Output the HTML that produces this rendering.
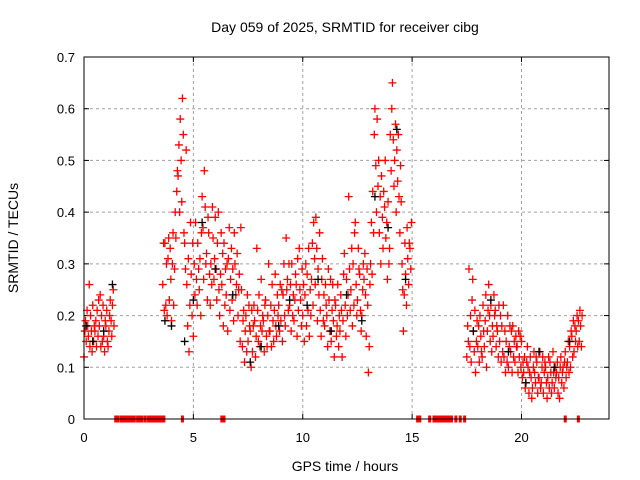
<!DOCTYPE html>
<html><head><meta charset="utf-8">
<style>
html,body{margin:0;padding:0;background:#fff;}
svg{display:block;font-family:"Liberation Sans",sans-serif;}
</style></head>
<body>
<svg id="chart" width="640" height="480" viewBox="0 0 640 480" xmlns="http://www.w3.org/2000/svg">
<rect x="0" y="0" width="640" height="480" fill="#fff"/>
<text x="345" y="32" font-size="14" text-anchor="middle" fill="#000">Day 059 of 2025, SRMTID for receiver cibg</text>
<text transform="translate(18,238) rotate(-90)" font-size="14" text-anchor="middle" fill="#000">SRMTID / TECUs</text>
<text x="345" y="471" font-size="14" text-anchor="middle" fill="#000">GPS time / hours</text>
<g id="grid"></g><g id="ticks"></g><g id="marks"></g>
<rect x="84" y="57" width="525" height="362" fill="none" stroke="#000" stroke-width="1"/>
</svg>
<script>
const xTicks=[0,5,10,15,20];
const yTicks=[0,0.1,0.2,0.3,0.4,0.5,0.6,0.7];
const yTickLabels=["0","0.1","0.2","0.3","0.4","0.5","0.6","0.7"];
const redTimes=[0.0,0.1,0.2,0.3,0.4,0.5,0.6,0.7,0.8,0.9,1.0,1.1,1.2,1.3,
3.6,3.7,3.8,3.9,4.0,4.1,4.2,4.3,4.4,4.5,4.6,4.7,4.8,4.9,5.0,5.1,5.2,5.3,5.4,5.5,5.6,5.7,5.8,5.9,6.0,6.1,6.2,6.3,6.4,6.5,6.6,6.7,6.8,6.9,
7.0,7.1,7.2,7.3,7.4,7.5,7.6,7.7,7.8,7.9,8.0,8.1,8.2,8.3,8.4,8.5,8.6,8.7,8.8,8.9,9.0,9.1,9.2,9.3,9.4,9.5,9.6,9.7,9.8,9.9,
10.0,10.1,10.2,10.3,10.4,10.5,10.6,10.7,10.8,10.9,11.0,11.1,11.2,11.3,11.4,11.5,11.6,11.7,11.8,11.9,
12.0,12.1,12.2,12.3,12.4,12.5,12.6,12.7,12.8,12.9,13.0,13.1,13.2,13.3,13.4,13.5,13.6,13.7,13.8,13.9,
14.0,14.1,14.2,14.3,14.4,14.5,14.6,14.7,14.8,14.9,
17.5,17.6,17.7,17.8,17.9,18.0,18.1,18.2,18.3,18.4,18.5,18.6,18.7,18.8,18.9,19.0,19.1,19.2,19.3,19.4,19.5,19.6,19.7,19.8,19.9,
20.0,20.1,20.2,20.3,20.4,20.5,20.6,20.7,20.8,20.9,21.0,21.1,21.2,21.3,21.4,21.5,21.6,21.7,21.8,21.9,22.0,22.1,22.2,22.3,22.4,22.5,22.6,22.7];
const redA=[12,15,16,20,22,17,21,18,20,16,18,14,23,22,
26,34,20,23,19,22,35,47,58,62,34,26,13,28,16,38,34,31,43,48,32,36,30,35,39,34,20,26,34,24,31,27,29,30,
32,28,25,21,20,15,17,13,19,33,24,27,19,23,20,17,26,21,16,22,19,24,18,27,22,30,19,26,21,23,
20,24,28,16,27,38,39,29,21,31,18,20,23,15,19,22,26,17,12,32,
27,43,25,30,38,23,28,20,27,16,9,30,44,60,58,36,47,44,35,42,
55,65,50,52,43,42,17,28,31,33,
12,29,11,17,9,14,20,12,14,10,26,22,16,21,17,15,18,12,15,10,13,18,11,14,12,
15,9,7,10,12,6,9,11,8,7,5,10,8,11,7,6,9,8,12,10,13,11,14,16,13,17,19,18];
const redB=[17,21,26,17,15,19,16,24,15,13,21,17,19,25,
34,22,31,33,30,29,44,53,50,55,29,18,22,20,30,27,29,20,37,41,23,28,26,27,29,40,28,32,22,30,37,33,19,24,
20,15,14,11,13,22,10,18,12,21,14,17,13,16,30,22,19,28,24,17,25,30,35,21,26,20,23,16,33,18,
26,30,21,25,34,31,33,24,16,19,26,14,17,21,12,16,14,24,19,22,
20,29,33,22,26,33,21,25,32,29,14,38,36,49,45,43,39,41,38,30,
48,54,57,46,36,30,24,22,26,29,
18,14,23,13,15,18,16,22,19,17,20,13,24,14,12,20,13,17,11,14,17,12,16,9,16,
8,12,11,5,8,10,7,5,13,10,9,7,12,9,13,10,11,4,7,6,8,15,10,12,18,20,15,14];
const redC=[19,18,14,13,18,14,23,14,22,19,15,20,16,18,
21,30,35,27,36,40,48,40,42,36,52,31,38,34,24,22,25,36,27,30,39,22,41,31,23,25,36,18,29,17,21,23,36,26,
25,37,19,17,24,18,21,22,16,15,18,20,22,14,17,14,15,18,20,26,15,20,25,30,17,24,28,31,25,29,
15,18,33,20,22,26,19,36,27,24,22,29,27,26,23,18,20,21,28,16,
24,21,18,36,20,29,17,30,24,22,26,28,55,40,50,30,33,50,27,33,
60,45,40,55,49,25,34,37,34,38,
15,20,27,21,19,11,13,17,24,21,15,18,20,18,22,11,22,9,20,18,9,15,14,17,10,
11,6,14,9,4,13,12,8,6,12,11,4,6,5,9,8,5,10,9,11,10,9,17,19,15,14,21,20];
const blackTimes=[0.1,0.4,0.9,1.3,3.7,4.0,4.6,5.0,5.4,6.0,6.8,7.6,8.1,8.9,9.4,10.2,10.7,11.3,12.0,12.7,13.3,13.9,14.3,14.7,17.8,18.6,19.4,20.2,20.8,21.5,22.2];
const blackValues=[18,15,17,26,19,18,15,23,38,29,24,11,14,18,23,22,27,17,24,19,43,37,56,27,17,23,13,7,13,10,15];
const zeroTimes=[1.45,1.55,1.7,1.8,1.9,2.0,2.1,2.2,2.3,2.45,2.55,2.65,2.8,2.95,3.05,3.15,3.25,3.35,3.45,3.55,3.65,4.5,6.3,6.4,15.25,15.35,15.8,16.0,16.1,16.2,16.3,16.4,16.5,16.6,16.7,16.8,17.0,17.2,17.4,22.0,22.6];

const X0=84,X1=609,Y0=419,Y1=57,XMAX=24,YMAX=0.7;
function xs(t){return X0+(X1-X0)*t/XMAX;}
function ys(v){return Y0-(Y0-Y1)*v/YMAX;}
const NS="http://www.w3.org/2000/svg";
function mk(tag,attrs,parent){const e=document.createElementNS(NS,tag);for(const k in attrs)e.setAttribute(k,attrs[k]);parent.appendChild(e);return e;}
const grid=document.getElementById('grid'),ticks=document.getElementById('ticks'),marks=document.getElementById('marks');

xTicks.forEach((t,i)=>{
  const x=xs(t);
  if(t>0){const g=mk('line',{x1:x,y1:Y1,x2:x,y2:Y0,stroke:'#a0a0a0','stroke-dasharray':'3,3'},grid);
  
  }
  mk('line',{x1:x,y1:Y0,x2:x,y2:Y0-5,stroke:'#000'},ticks);
  mk('line',{x1:x,y1:Y1,x2:x,y2:Y1+5,stroke:'#000'},ticks);
  const l=mk('text',{x:x,y:Y0+23,'font-size':13,'text-anchor':'middle',fill:'#000'},ticks);
  l.textContent=String(t);
  
  
});
yTicks.forEach((v,i)=>{
  const y=ys(v);
  if(v>0&&v<YMAX-1e-9){const g=mk('line',{x1:X0,y1:y,x2:X1,y2:y,stroke:'#a0a0a0','stroke-dasharray':'3,3'},grid);
  
  }
  mk('line',{x1:X0,y1:y,x2:X0+5,y2:y,stroke:'#000'},ticks);
  mk('line',{x1:X1,y1:y,x2:X1-5,y2:y,stroke:'#000'},ticks);
  const l=mk('text',{x:X0-9,y:y+5,'font-size':13,'text-anchor':'end',fill:'#000'},ticks);
  l.textContent=yTickLabels[i];
  
  
});
function plus(t,v,color,name){
  const x=xs(t),y=ys(v);
  const p=mk('path',{d:`M${x-4},${y}H${x+4}M${x},${y-4}V${y+4}`,stroke:color,'stroke-width':1.3,fill:'none'},marks);
  
  
}
redTimes.forEach((t,i)=>{
  plus(t,redA[i]/100,'#ff0000','srmtid-point');
  plus(t+0.04,redB[i]/100,'#ff0000','srmtid-point');
  plus(t+0.07,redC[i]/100,'#ff0000','srmtid-point');
});
blackTimes.forEach((t,i)=>plus(t,blackValues[i]/100,'#000000','srmtid-point-alt'));
zeroTimes.forEach(t=>{
  const x=xs(t);
  const r=mk('rect',{x:x-1.5,y:Y0-3.5,width:3,height:7,fill:'#ff0000'},marks);
  
  
});
</script>
</body></html>
